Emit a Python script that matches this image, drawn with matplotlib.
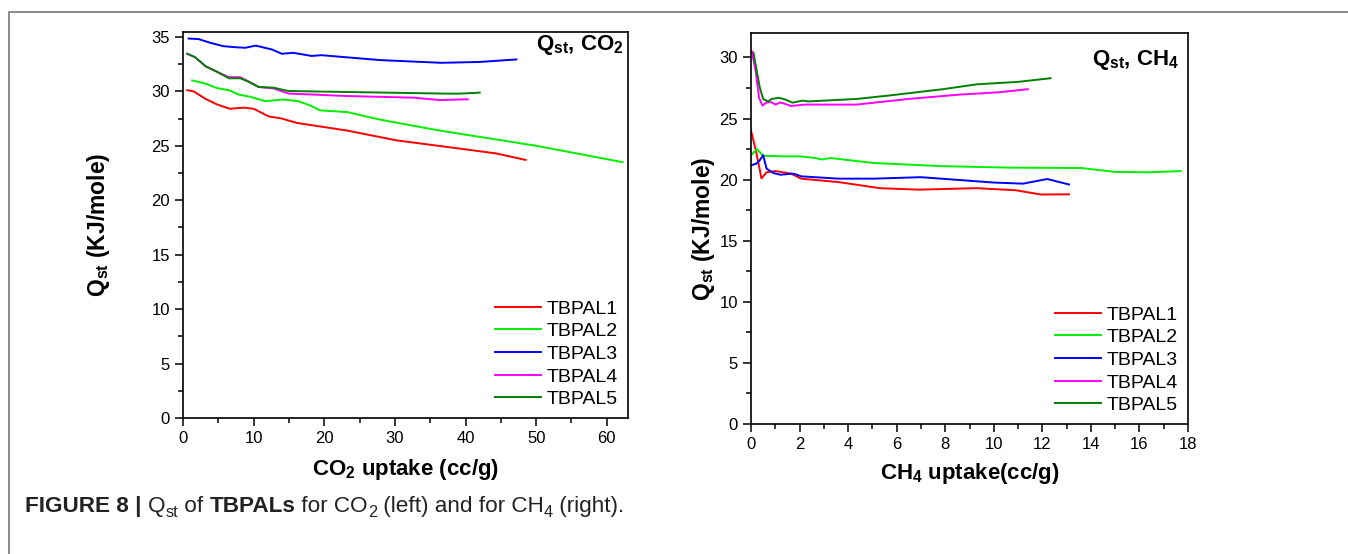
import matplotlib
matplotlib.use("Agg")
import matplotlib.pyplot as plt
from matplotlib.lines import Line2D
from matplotlib.ticker import MultipleLocator

plt.rcParams['font.family'] = ['Liberation Sans', 'DejaVu Sans']
plt.rcParams['mathtext.fontset'] = 'custom'
plt.rcParams['mathtext.rm'] = 'Liberation Sans'
plt.rcParams['mathtext.bf'] = 'Liberation Sans:bold'
plt.rcParams['mathtext.it'] = 'Liberation Sans:italic'

labels = ["TBPAL1", "TBPAL2", "TBPAL3", "TBPAL4", "TBPAL5"]
colors = ["#FF0000", "#00F000", "#0000FF", "#FF00FF", "#007F00"]

# ---- CO2 data ----
co2_x1 = [0.6, 1.5, 3.2, 4.8, 6.6, 8.6, 10.0, 12.1, 14.0, 16.1, 23.2, 30.2, 37.3, 44.3, 48.5]
co2_y1 = [30.1, 30.0, 29.3, 28.8, 28.4, 28.5, 28.4, 27.7, 27.5, 27.1, 26.4, 25.5, 24.9, 24.3, 23.7]
co2_x2 = [1.3, 3.2, 4.8, 6.5, 7.9, 9.5, 11.6, 14.2, 16.3, 18.0, 19.4, 23.2, 27.9, 36.3, 50.0, 62.2]
co2_y2 = [31.0, 30.7, 30.3, 30.1, 29.7, 29.5, 29.1, 29.25, 29.1, 28.7, 28.25, 28.1, 27.4, 26.4, 25.0, 23.5]
co2_x3 = [0.8, 2.2, 3.9, 5.7, 7.4, 8.8, 10.3, 12.6, 14.0, 15.6, 18.2, 19.6, 27.9, 36.6, 42.0, 47.2]
co2_y3 = [34.85, 34.8, 34.45, 34.15, 34.05, 34.0, 34.2, 33.84, 33.45, 33.54, 33.25, 33.32, 32.87, 32.62, 32.7, 32.93]
co2_x4 = [0.6, 1.7, 3.2, 4.8, 6.5, 8.1, 9.3, 10.7, 12.8, 14.9, 23.2, 32.6, 36.3, 40.3]
co2_y4 = [33.45, 33.14, 32.3, 31.8, 31.3, 31.3, 30.9, 30.4, 30.27, 29.8, 29.57, 29.42, 29.2, 29.27]
co2_x5 = [0.6, 1.7, 3.2, 4.8, 6.5, 8.1, 9.3, 10.7, 12.8, 14.9, 23.2, 37.3, 39.2, 42.0]
co2_y5 = [33.45, 33.14, 32.3, 31.8, 31.2, 31.2, 30.88, 30.4, 30.34, 30.03, 29.94, 29.79, 29.79, 29.88]

# ---- CH4 data ----
ch4_x1 = [0.0, 0.21, 0.43, 0.64, 1.0, 1.64, 2.06, 3.6, 5.3, 6.9, 9.3, 10.9, 11.95, 13.1]
ch4_y1 = [24.0, 22.3, 20.1, 20.6, 20.7, 20.5, 20.08, 19.8, 19.3, 19.18, 19.3, 19.13, 18.78, 18.8]
ch4_x2 = [0.0, 0.24, 0.5, 1.49, 2.06, 2.63, 2.92, 3.27, 5.05, 7.9, 10.7, 13.6, 15.0, 16.4, 17.7]
ch4_y2 = [22.0, 22.5, 21.95, 21.9, 21.9, 21.77, 21.65, 21.77, 21.36, 21.1, 20.98, 20.95, 20.63, 20.6, 20.7]
ch4_x3 = [0.0, 0.21, 0.36, 0.5, 0.64, 0.92, 1.21, 1.71, 1.85, 2.06, 3.6, 5.05, 7.0, 10.0, 11.2, 12.2, 13.1]
ch4_y3 = [21.17, 21.3, 21.58, 22.0, 20.9, 20.54, 20.4, 20.49, 20.43, 20.27, 20.08, 20.08, 20.2, 19.76, 19.67, 20.05, 19.6]
ch4_x4 = [0.03, 0.19, 0.33, 0.47, 0.64, 0.85, 1.0, 1.21, 1.64, 2.2, 4.34, 6.47, 8.6, 10.2, 11.4]
ch4_y4 = [30.5, 28.9, 26.7, 26.06, 26.33, 26.33, 26.14, 26.33, 26.03, 26.14, 26.14, 26.6, 26.96, 27.15, 27.4]
ch4_x5 = [0.1, 0.21, 0.36, 0.5, 0.71, 0.85, 1.14, 1.42, 1.71, 2.13, 2.35, 4.34, 5.76, 7.9, 9.3, 11.0, 12.34]
ch4_y5 = [30.4, 29.2, 27.55, 26.6, 26.4, 26.6, 26.7, 26.55, 26.3, 26.47, 26.4, 26.6, 26.9, 27.4, 27.8, 28.0, 28.3]

co2_series = [(co2_x1, co2_y1), (co2_x2, co2_y2), (co2_x3, co2_y3), (co2_x4, co2_y4), (co2_x5, co2_y5)]
ch4_series = [(ch4_x1, ch4_y1), (ch4_x2, ch4_y2), (ch4_x3, ch4_y3), (ch4_x4, ch4_y4), (ch4_x5, ch4_y5)]

W, H = 1348, 554
fig = plt.figure(figsize=(W / 100, H / 100), dpi=100)

def px_axes(l, t, r, b):
    return fig.add_axes([l / W, 1 - b / H, (r - l) / W, (b - t) / H])

def ftext(xp, yp, s, **kw):
    return fig.text(xp / W, 1 - yp / H, s, **kw)

ax1 = px_axes(183, 32, 628, 418)
ax2 = px_axes(751, 33, 1188, 424)

for ax, series in [(ax1, co2_series), (ax2, ch4_series)]:
    for (xs, ys), c, lab in zip(series, colors, labels):
        ax.plot(xs, ys, color=c, lw=1.4, label=lab)
    for s in ax.spines.values():
        s.set_linewidth(1.2)
    ax.tick_params(which='both', direction='out', labelsize=12, width=1.1)
    ax.tick_params(which='major', length=6)
    ax.tick_params(which='minor', length=3.5)
    ax.yaxis.set_major_locator(MultipleLocator(5))
    ax.yaxis.set_minor_locator(MultipleLocator(2.5))
    ax.set_ylabel(r'Q$_{\mathbf{st}}$ (KJ/mole)', fontsize=16.5, fontweight='bold')
    ax.legend(loc='lower right', frameon=False, fontsize=14, handlelength=2.4,
              handletextpad=0.3, labelspacing=0.26, borderpad=0.2, borderaxespad=0.3)

ax1.yaxis.set_label_coords((112 - 183) / 445, 0.5)
ax2.yaxis.set_label_coords((717 - 751) / 437, 0.5)

ax1.set_xlim(0, 63)
ax1.set_ylim(0, 35.45)
ax1.xaxis.set_major_locator(MultipleLocator(10))
ax1.xaxis.set_minor_locator(MultipleLocator(5))
ax1.set_xlabel(r'CO$_{\mathbf{2}}$ uptake (cc/g)', fontsize=16, fontweight='bold', labelpad=8)

ax2.set_xlim(0, 18)
ax2.set_ylim(0, 32)
ax2.xaxis.set_major_locator(MultipleLocator(2))
ax2.xaxis.set_minor_locator(MultipleLocator(1))
ax2.set_xlabel(r'CH$_{\mathbf{4}}$ uptake(cc/g)', fontsize=16, fontweight='bold', labelpad=6)

ftext(624, 50, r'Q$_{\mathbf{st}}$, CO$_{\mathbf{2}}$', ha='right', va='baseline',
      fontsize=16, fontweight='bold')
ftext(1179, 65, r'Q$_{\mathbf{st}}$, CH$_{\mathbf{4}}$', ha='right', va='baseline',
      fontsize=16, fontweight='bold')

# outer frame (top + left)
fig.add_artist(Line2D([9 / W, 9 / W, 1.0], [0.0, 1 - 12 / H, 1 - 12 / H],
                      transform=fig.transFigure, color='#808080', lw=1.3))

# caption, built from pieces; font size scaled to the reference width
fig.canvas.draw()
renderer = fig.canvas.get_renderer()
cap_font = ['Liberation Sans Narrow', 'Liberation Sans', 'DejaVu Sans']
pieces = [("FIGURE 8 | ", 'bold', 0), ("Q", 'normal', 0), ("st", 'normal', 1), (" of ", 'normal', 0),
          ("TBPALs", 'bold', 0), (" for CO", 'normal', 0), ("2", 'normal', 1),
          (" (left) and for CH", 'normal', 0), ("4", 'normal', 1), (" (right).", 'normal', 0)]

def draw_caption(size, x0=25, baseline=512):
    arts = []
    x = x0
    for txt, wt, sub in pieces:
        s = size * 0.72 if sub else size
        yy = baseline + (size * 0.3 if sub else 0)
        t = ftext(x, yy, txt, fontsize=s, fontweight=wt, family=cap_font,
                  ha='left', va='baseline', color='#222222')
        x += t.get_window_extent(renderer).width
        arts.append(t)
    return arts, x - x0

arts, width = draw_caption(12)
for a in arts:
    a.remove()
size = 12 * 598.0 / width
draw_caption(size)

fig.savefig("out.png", dpi=100)
